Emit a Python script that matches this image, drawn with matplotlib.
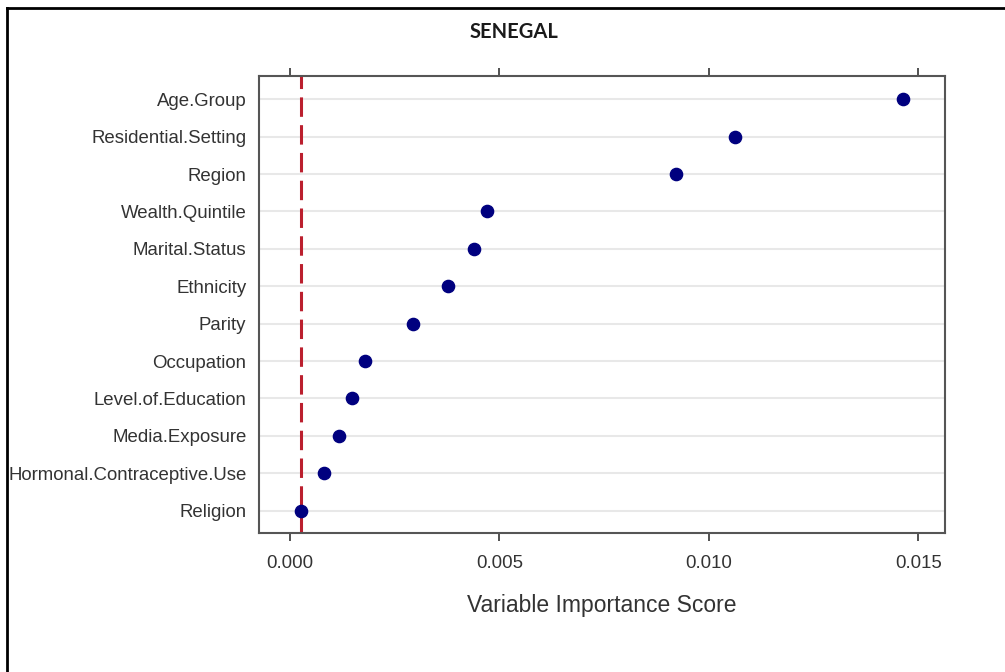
import numpy as np
import matplotlib
matplotlib.use("Agg")
import matplotlib.pyplot as plt
from matplotlib.lines import Line2D

# variable importance
variables = ['Age.Group', 'Residential.Setting', 'Region', 'Wealth.Quintile',
             'Marital.Status', 'Ethnicity', 'Parity', 'Occupation',
             'Level.of.Education', 'Media.Exposure',
             'Hormonal.Contraceptive.Use', 'Religion']
importance = [0.01463, 0.01063, 0.00922, 0.00471, 0.00439, 0.00377,
              0.00294, 0.00179, 0.00148, 0.00117, 0.00081, 0.00026]
cutoff = 0.00026
xticks = [0.000, 0.005, 0.010, 0.015]

plt.rcParams['font.family'] = ['Liberation Sans', 'DejaVu Sans']
plt.rcParams['lines.scale_dashes'] = False

fig = plt.figure(figsize=(10.05, 6.72), dpi=100)
ax = fig.add_axes([0.2577, 0.2068, 0.6826, 0.680])

ypos = np.arange(len(variables), 0, -1)
for y in ypos:
    ax.axhline(y, color='#e8e8e8', lw=1.5, zorder=0)

ax.axvline(cutoff, color='#bb1f2e', lw=2.2, linestyle=(0, (14, 6)), zorder=1)
ax.plot(importance, ypos, 'o', color='#00007f', markersize=8.8, zorder=3)

ax.set_xlim(-0.00074, 0.01564)
ax.set_ylim(0.4, 12.62)
ax.set_yticks(ypos)
ax.set_yticklabels(variables)
ax.set_xticks(xticks)
ax.set_xticklabels(['%.3f' % t for t in xticks])

ax.tick_params(axis='y', length=0, pad=9, labelsize=13.4, labelcolor='#333333')
ax.tick_params(axis='x', direction='out', length=6, width=1.2, color='#333333',
               pad=10, labelsize=13.4, labelcolor='#333333', top=True)
for s in ax.spines.values():
    s.set_color('#555555')
    s.set_linewidth(1.5)

ax.set_xlabel('Variable Importance Score', fontsize=16.5, color='#333333', labelpad=16)

fig.text(0.511, 0.952, 'SENEGAL', ha='center', va='center', fontsize=14.5,
         fontweight='bold', family=['Lato', 'DejaVu Sans'], color='#1a1a1a')

# outer frame (top and left edges visible in reference)
fig.add_artist(Line2D([0.007, 1.0], [0.988, 0.988], transform=fig.transFigure,
                      color='black', lw=2))
fig.add_artist(Line2D([0.007, 0.007], [0.0, 0.988], transform=fig.transFigure,
                      color='black', lw=2))

fig.savefig('out.png', dpi=100)
